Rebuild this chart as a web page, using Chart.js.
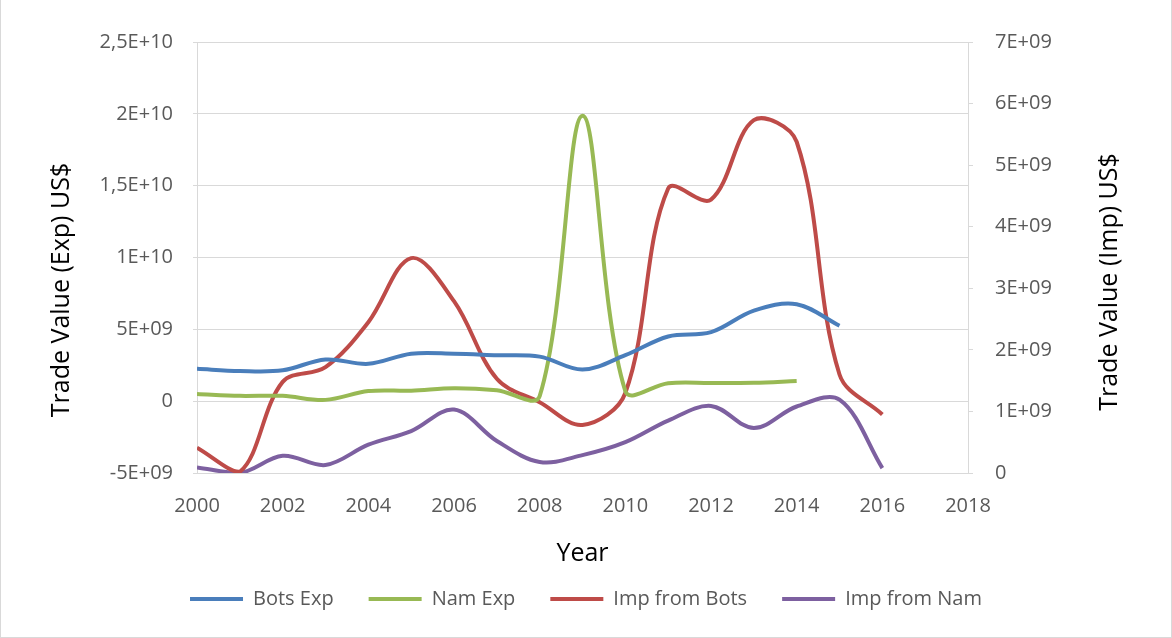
<!DOCTYPE html>
<html>
<head>
<meta charset="utf-8">
<script src="https://cdn.jsdelivr.net/npm/chart.js@4"></script>
<style>
  body { margin: 0; background: #fff; }
  #wrap { position: relative; width: 1172px; height: 638px; }
  #frame { position: absolute; left: 0; top: 0; width: 1172px; height: 638px; box-sizing: border-box;
           border-left: 1px solid #d9d9d9; border-right: 1px solid #d9d9d9; border-bottom: 1px solid #d9d9d9; pointer-events: none; }
</style>
</head>
<body>
<div id="wrap">
  <canvas id="chart" width="1172" height="638"></canvas>
  <div id="frame"></div>
</div>
<script>
// years on the x axis
var years = [2000, 2001, 2002, 2003, 2004, 2005, 2006, 2007, 2008, 2009, 2010, 2011, 2012, 2013, 2014, 2015, 2016];
// exports, left axis (US$)
var botsExp = [2.25e9, 2.1e9, 2.15e9, 2.9e9, 2.6e9, 3.3e9, 3.3e9, 3.2e9, 3.1e9, 2.2e9, 3.2e9, 4.5e9, 4.8e9, 6.3e9, 6.75e9, 5.25e9];
var namExp = [0.5e9, 0.37e9, 0.37e9, 0.09e9, 0.7e9, 0.73e9, 0.9e9, 0.76e9, 0.35e9, 19.86e9, 0.7e9, 1.25e9, 1.27e9, 1.28e9, 1.4e9];
// imports, right axis (US$)
var impBots = [0.41e9, 0.02e9, 1.48e9, 1.72e9, 2.45e9, 3.49e9, 2.79e9, 1.53e9, 1.15e9, 0.78e9, 1.3e9, 4.62e9, 4.44e9, 5.73e9, 5.38e9, 1.6e9, 0.95e9];
var impNam = [0.09e9, 0.0, 0.28e9, 0.13e9, 0.46e9, 0.68e9, 1.03e9, 0.52e9, 0.18e9, 0.29e9, 0.5e9, 0.85e9, 1.09e9, 0.73e9, 1.08e9, 1.19e9, 0.08e9];

var names = ['Bots Exp', 'Nam Exp', 'Imp from Bots', 'Imp from Nam'];
var colors = ['#4a7ebb', '#98b954', '#be4b48', '#7d60a0'];
var leftTitle = 'Trade Value (Exp) US$';
var rightTitle = 'Trade Value (Imp) US$';

var textColor = '#595959';
var gridColor = '#d9d9d9';
var fontFamily = '"Open Sans", sans-serif';

function points(values){
  return values.map(function(v, i){ return {x: years[i], y: v}; });
}

// Excel style scientific labels: 2,5E+10, 5E+09, 0
function sci(v){
  if(v == 0){ return '0'; }
  var sign = v < 0 ? '-' : '';
  var a = Math.abs(v);
  var e = Math.floor(Math.log10(a) + 1e-9);
  var m = Math.round(a / Math.pow(10, e) * 100) / 100;
  return sign + String(m).replace('.', ',') + 'E+' + (e < 10 ? '0' + e : e);
}

// both y titles read bottom to top, like in Excel
var yTitles = {
  id: 'yTitles',
  afterDraw: function(c){
    var ctx = c.ctx;
    var l = c.scales.yL, r = c.scales.yR;
    ctx.save();
    ctx.font = '25px ' + fontFamily;
    ctx.fillStyle = '#000';
    ctx.textAlign = 'center';
    ctx.textBaseline = 'middle';
    [[l.left + 62, 290, leftTitle], [r.right - 62, 282, rightTitle]].forEach(function(t){
      ctx.save();
      ctx.translate(t[0], t[1]);
      ctx.rotate(-Math.PI / 2);
      ctx.fillText(t[2], 0, 0);
      ctx.restore();
    });
    ctx.restore();
  }
};

var series = [botsExp, namExp, impBots, impNam];
var axes = ['yL', 'yL', 'yR', 'yR'];

var chart = new Chart(document.getElementById('chart'), {
  type: 'line',
  data: {
    datasets: series.map(function(values, i){
      return {
        label: names[i],
        data: points(values),
        yAxisID: axes[i],
        borderColor: colors[i],
        backgroundColor: colors[i],
        borderWidth: 4,
        pointRadius: 0,
        tension: 0.35,
        fill: false
      };
    })
  },
  plugins: [yTitles],
  options: {
    responsive: false,
    animation: false,
    devicePixelRatio: 1,
    layout: { padding: { top: 42, left: 0, right: 0, bottom: 19 } },
    plugins: {
      title: { display: false },
      tooltip: { enabled: false },
      legend: {
        position: 'bottom',
        labels: {
          usePointStyle: true,
          pointStyle: 'line',
          pointStyleWidth: 53,
          padding: 35,
          color: textColor,
          font: { family: fontFamily, size: 20 }
        }
      }
    },
    scales: {
      x: {
        type: 'linear',
        min: 2000,
        max: 2018,
        grid: { display: false, drawTicks: false },
        border: { display: true, color: gridColor, width: 1 },
        ticks: {
          stepSize: 2,
          padding: 21,
          color: textColor,
          font: { family: fontFamily, size: 20 },
          callback: function(v){ return String(v); }
        },
        title: {
          display: true,
          text: 'Year',
          color: '#000',
          font: { family: fontFamily, size: 25, lineHeight: 1 },
          padding: { top: 0, bottom: -12 }
        },
        afterFit: function(s){ s.height = 81; }
      },
      yL: {
        position: 'left',
        min: -5e9,
        max: 2.5e10,
        grid: { color: gridColor, tickLength: 4, drawTicks: true },
        border: { display: true, color: gridColor, width: 1 },
        ticks: {
          stepSize: 5e9,
          padding: 20,
          color: textColor,
          font: { family: fontFamily, size: 20 },
          callback: function(v){ return sci(v); }
        },
        afterFit: function(s){ s.width = 197; }
      },
      yR: {
        position: 'right',
        min: 0,
        max: 7e9,
        grid: { drawOnChartArea: false, color: gridColor, tickLength: 5, drawTicks: true },
        border: { display: true, color: gridColor, width: 1 },
        ticks: {
          stepSize: 1e9,
          padding: 22,
          color: textColor,
          font: { family: fontFamily, size: 20 },
          callback: function(v){ return sci(v); }
        },
        afterFit: function(s){ s.width = 204; }
      }
    }
  }
});
</script>
</body>
</html>
